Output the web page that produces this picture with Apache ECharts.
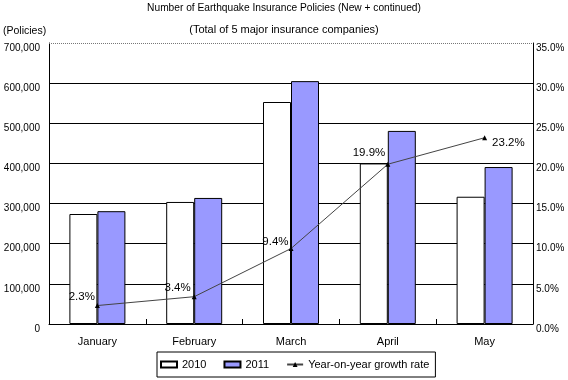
<!DOCTYPE html>
<html><head><meta charset="utf-8">
<script src="https://cdn.jsdelivr.net/npm/echarts@6/dist/echarts.min.js"></script>
<style>html,body{margin:0;padding:0;background:#fff}#c{width:568px;height:380px}</style>
</head><body><div id="c"></div>
<script>
var categories = ['January','February','March','April','May'];
var policies2010 = [274000, 304000, 553000, 400000, 317000];
var policies2011 = [281000, 314000, 605000, 481000, 391000];
var growthRate = [2.3, 3.4, 9.4, 19.9, 23.2];
var leftTicks = {min:0, max:700000, interval:100000};
var rightTicks = {min:0, max:35, interval:5};

var FONT = 'Liberation Sans, Arial, sans-serif';
var labelCfg = [
  {position:'left', offset:[5,-9]},
  {position:'left', offset:[4,-9]},
  {position:'left', offset:[5,-7]},
  {position:'left', offset:[5,-11]},
  {position:'right', offset:[0,5]}
];
var growthData = growthRate.map(function(v,i){
  return {value:v, label:labelCfg[i]};
});

var chart = echarts.init(document.getElementById('c'), null, {renderer:'canvas'});
chart.setOption({
  animation:false,
  backgroundColor:'#fff',
  textStyle:{fontFamily:FONT},
  title:[
    {text:'Number of Earthquake Insurance Policies (New + continued)', left:'center', top:3, padding:0,
     textStyle:{fontSize:10.2, fontWeight:'normal', color:'#000', fontFamily:FONT}},
    {text:'(Total of 5 major insurance companies)', left:'center', top:24, padding:0,
     textStyle:{fontSize:11, fontWeight:'normal', color:'#000', fontFamily:FONT}},
    {text:'(Policies)', left:3, top:26, padding:0,
     textStyle:{fontSize:10.5, fontWeight:'normal', color:'#000', fontFamily:FONT}}
  ],
  grid:{left:49, right:35, top:43, bottom:56, containLabel:false},
  legend:{
    bottom:3, left:157,
    borderColor:'#000', borderWidth:1, padding:[7,6,7,3],
    itemWidth:16, itemHeight:6, itemGap:17,
    textStyle:{fontSize:11, color:'#000', fontFamily:FONT},
    data:[
      {name:'2010', icon:'rect'},
      {name:'2011', icon:'rect'},
      {name:'Year-on-year growth rate'}
    ]
  },
  xAxis:{
    type:'category', data:categories, boundaryGap:true,
    axisLine:{show:true, lineStyle:{color:'#000', width:1}},
    axisTick:{show:true, inside:true, length:5, lineStyle:{color:'#000'}},
    axisLabel:{fontSize:11, color:'#000', margin:12, fontFamily:FONT},
    splitLine:{show:false}
  },
  yAxis:[
    {type:'value', min:leftTicks.min, max:leftTicks.max, interval:leftTicks.interval,
     axisLine:{show:true, lineStyle:{color:'#000', width:1}},
     axisTick:{show:false},
     axisLabel:{fontSize:10, color:'#000', margin:9, fontFamily:FONT, verticalAlign:'top',
       formatter:function(v){return v===0?'0':v.toLocaleString('en-US');}},
     splitLine:{show:true, showMaxLine:false, lineStyle:{color:'#000', width:1}}
    },
    {type:'value', min:rightTicks.min, max:rightTicks.max, interval:rightTicks.interval,
     axisLine:{show:true, lineStyle:{color:'#000', width:1}},
     axisTick:{show:false},
     axisLabel:{fontSize:10, color:'#000', margin:3, fontFamily:FONT, verticalAlign:'top',
       formatter:function(v){return v.toFixed(1)+'%';}},
     splitLine:{show:false}
    }
  ],
  series:[
    {name:'2010', type:'bar', data:policies2010, barWidth:28, barGap:'0%',
     itemStyle:{color:'#fff', borderColor:'#000', borderWidth:1},
     markLine:{silent:true, symbol:'none', label:{show:false},
       lineStyle:{type:'dotted', color:'#777', width:1},
       data:[{yAxis:leftTicks.max}]}
    },
    {name:'2011', type:'bar', data:policies2011, barWidth:28,
     itemStyle:{color:'#9999FF', borderColor:'#000', borderWidth:1}},
    {name:'Year-on-year growth rate', type:'line', yAxisIndex:1, data:growthData,
     symbol:'triangle', symbolSize:5,
     lineStyle:{color:'#444', width:1},
     itemStyle:{color:'#000'},
     label:{show:true, fontSize:11.5, color:'#000', fontFamily:FONT,
       formatter:function(p){return p.value.toFixed(1)+'%';}},
     z:5
    }
  ]
});
</script></body></html>
